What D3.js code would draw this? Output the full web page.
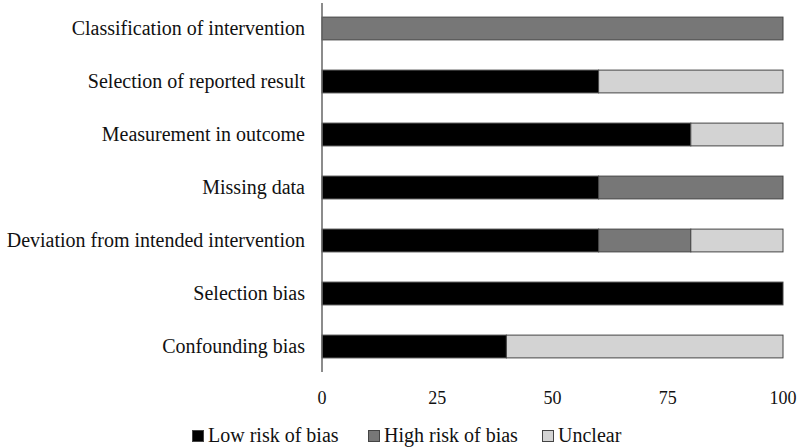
<!DOCTYPE html>
<html><head><meta charset="utf-8">
<script src="https://cdn.jsdelivr.net/npm/d3@7"></script>
<style>body{margin:0;background:#fff}svg{display:block}</style>
</head><body><svg id="c" width="800" height="448"></svg>
<script>
const categories = ["Classification of intervention","Selection of reported result","Measurement in outcome","Missing data","Deviation from intended intervention","Selection bias","Confounding bias"];
const seriesNames = ["Low risk of bias","High risk of bias","Unclear"];
const lowRisk  = [0, 60, 80, 60, 60, 100, 40];
const highRisk = [100, 0, 0, 40, 20, 0, 0];
const unclear  = [0, 40, 20, 0, 20, 0, 60];
const xTicks = [0, 25, 50, 75, 100];
const colors = ["#000000", "#777777", "#d3d3d3"];
const FONT = "'Liberation Serif', 'Times New Roman', 'DejaVu Serif', serif";

const svg = d3.select("#c").style("font-family", FONT);
const x = d3.scaleLinear().domain([0,100]).range([322,783]);
const y = d3.scaleBand().domain(categories).range([2,373]).paddingInner(0.57).paddingOuter(0.285);

const table = categories.map((c,i)=>({cat:c, "Low risk of bias":lowRisk[i], "High risk of bias":highRisk[i], "Unclear":unclear[i]}));
const stacked = d3.stack().keys(seriesNames)(table);

svg.append("g").selectAll("g").data(stacked).join("g")
  .attr("fill",(d,i)=>colors[i])
  .selectAll("rect").data(d=>d.filter(p=>p[1]-p[0]>0)).join("rect")
  .attr("x",d=>x(d[0])).attr("width",d=>x(d[1])-x(d[0]))
  .attr("y",d=>y(d.data.cat)).attr("height",y.bandwidth())
  .attr("stroke","#444").attr("stroke-width",1);

svg.append("line").attr("x1",322).attr("x2",322).attr("y1",3).attr("y2",372).attr("stroke","#666").attr("stroke-width",1.5);

svg.append("g").selectAll("text").data(categories).join("text")
  .attr("font-family",FONT).attr("fill","#111")
  .attr("x",305).attr("y",d=>y(d)+y.bandwidth()/2).attr("dy","0.33em")
  .attr("text-anchor","end").attr("font-size",20).text(d=>d);

svg.append("g").selectAll("text").data(xTicks).join("text")
  .attr("font-family",FONT).attr("fill","#111")
  .attr("x",d=>x(d)).attr("y",404).attr("text-anchor","middle").attr("font-size",18).text(d=>d);

const legX = [192, 368, 542];
const lg = svg.append("g").selectAll("g").data(seriesNames).join("g")
  .attr("transform",(d,i)=>`translate(${legX[i]},0)`);
lg.append("rect").attr("x",0.5).attr("y",430.5).attr("width",11).attr("height",11)
  .attr("fill",(d,i)=>colors[i]).attr("stroke","#444").attr("stroke-width",1);
lg.append("text").attr("font-family",FONT).attr("fill","#111")
  .attr("x",16).attr("y",442).attr("font-size",20).text(d=>d);
</script></body></html>
